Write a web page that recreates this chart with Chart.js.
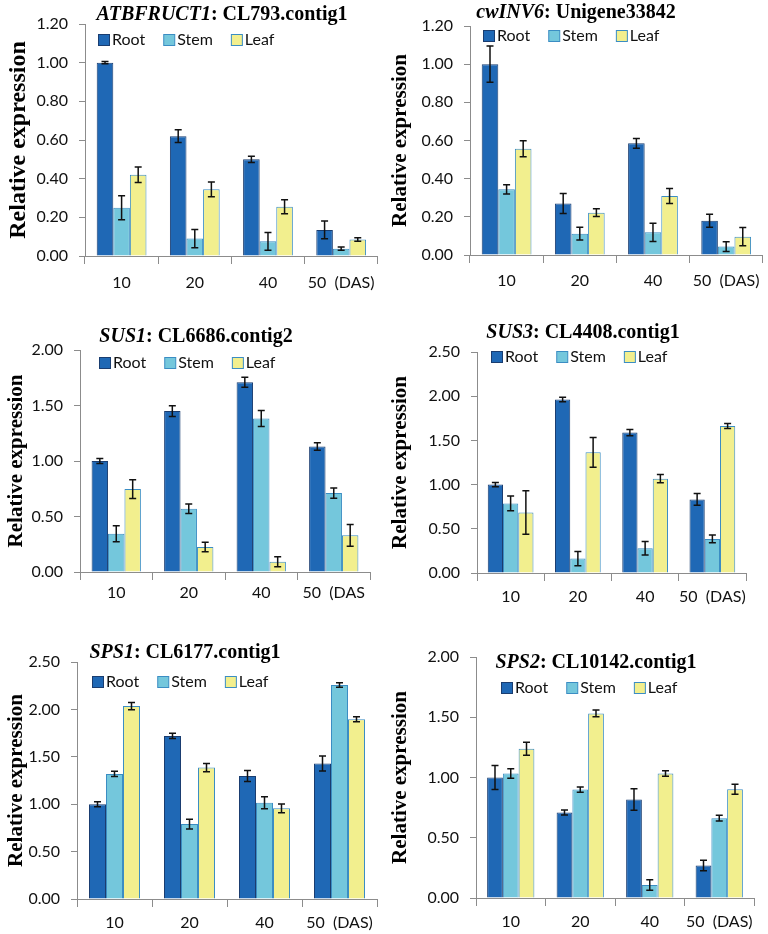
<!DOCTYPE html>
<html>
<head>
<meta charset="utf-8">
<script src="https://cdn.jsdelivr.net/npm/chart.js@4.4.1/dist/chart.umd.min.js"></script>
<style>
  body { margin: 0; background: #fff; }
  #page { position: relative; width: 768px; height: 934px; overflow: hidden; }
  canvas { position: absolute; }
</style>
</head>
<body>
<div id="page">
  <canvas id="c1" width="384" height="300" style="left:0;top:0"></canvas>
  <canvas id="c2" width="384" height="300" style="left:384px;top:0"></canvas>
  <canvas id="c3" width="384" height="310" style="left:0;top:300px"></canvas>
  <canvas id="c4" width="384" height="310" style="left:384px;top:300px"></canvas>
  <canvas id="c5" width="384" height="324" style="left:0;top:610px"></canvas>
  <canvas id="c6" width="384" height="324" style="left:384px;top:610px"></canvas>
</div>
<script>
// categories
const days = ['10', '20', '40', '50  (DAS)'];
const daysSus1 = ['10', '20', '40', '50  (DAS'];
const tissues = ['Root', 'Stem', 'Leaf'];

// ATBFRUCT1
const atbRoot = [1.00, 0.62, 0.50, 0.135];
const atbRootErr = [0.006, 0.033, 0.016, 0.046];
const atbStem = [0.25, 0.09, 0.076, 0.038];
const atbStemErr = [0.062, 0.047, 0.046, 0.008];
const atbLeaf = [0.42, 0.345, 0.255, 0.085];
const atbLeafErr = [0.04, 0.038, 0.036, 0.009];

// cwINV6
const cwRoot = [1.00, 0.27, 0.585, 0.18];
const cwRootErr = [0.095, 0.052, 0.026, 0.034];
const cwStem = [0.344, 0.112, 0.119, 0.044];
const cwStemErr = [0.024, 0.033, 0.048, 0.026];
const cwLeaf = [0.557, 0.222, 0.309, 0.096];
const cwLeafErr = [0.042, 0.02, 0.039, 0.048];

// SUS1
const sus1Root = [1.00, 1.45, 1.71, 1.13];
const sus1RootErr = [0.022, 0.048, 0.045, 0.034];
const sus1Stem = [0.345, 0.57, 1.382, 0.711];
const sus1StemErr = [0.072, 0.043, 0.072, 0.046];
const sus1Leaf = [0.747, 0.225, 0.093, 0.33];
const sus1LeafErr = [0.084, 0.042, 0.045, 0.097];

// SUS3
const sus3Root = [1.00, 1.963, 1.588, 0.832];
const sus3RootErr = [0.023, 0.026, 0.036, 0.066];
const sus3Stem = [0.787, 0.163, 0.28, 0.386];
const sus3StemErr = [0.083, 0.081, 0.076, 0.045];
const sus3Leaf = [0.685, 1.365, 1.067, 1.664];
const sus3LeafErr = [0.246, 0.168, 0.047, 0.028];

// SPS1
const sps1Root = [1.00, 1.72, 1.297, 1.43];
const sps1RootErr = [0.026, 0.028, 0.058, 0.079];
const sps1Stem = [1.319, 0.79, 1.016, 2.257];
const sps1StemErr = [0.028, 0.051, 0.063, 0.023];
const sps1Leaf = [2.035, 1.386, 0.956, 1.897];
const sps1LeafErr = [0.039, 0.044, 0.046, 0.026];

// SPS2
const sps2Root = [1.00, 0.709, 0.817, 0.27];
const sps2RootErr = [0.1, 0.021, 0.089, 0.043];
const sps2Stem = [1.033, 0.90, 0.108, 0.662];
const sps2StemErr = [0.039, 0.022, 0.044, 0.024];
const sps2Leaf = [1.238, 1.532, 1.033, 0.903];
const sps2LeafErr = [0.054, 0.028, 0.022, 0.042];

const fills = ['#1f68b5', '#74c7dc', '#f2ef8e'];
const borders = ['#1a3d70', '#3b8dc3', '#3b8dc3'];
const axisGray = '#8c8c8c';
const sans = 'Lato, "Noto Sans", sans-serif';
const serif = '"Liberation Serif", "DejaVu Serif", serif';

const panels = [
  { id: 'c1', gene: 'ATBFRUCT1', contig: 'CL793.contig1', labels: days, max: 1.2, step: 0.2,
    values: [atbRoot, atbStem, atbLeaf], errors: [atbRootErr, atbStemErr, atbLeafErr] },
  { id: 'c2', gene: 'cwINV6', contig: 'Unigene33842', labels: days, max: 1.2, step: 0.2,
    values: [cwRoot, cwStem, cwLeaf], errors: [cwRootErr, cwStemErr, cwLeafErr] },
  { id: 'c3', gene: 'SUS1', contig: 'CL6686.contig2', labels: daysSus1, max: 2.0, step: 0.5,
    values: [sus1Root, sus1Stem, sus1Leaf], errors: [sus1RootErr, sus1StemErr, sus1LeafErr] },
  { id: 'c4', gene: 'SUS3', contig: 'CL4408.contig1', labels: days, max: 2.5, step: 0.5,
    values: [sus3Root, sus3Stem, sus3Leaf], errors: [sus3RootErr, sus3StemErr, sus3LeafErr] },
  { id: 'c5', gene: 'SPS1', contig: 'CL6177.contig1', labels: days, max: 2.5, step: 0.5,
    values: [sps1Root, sps1Stem, sps1Leaf], errors: [sps1RootErr, sps1StemErr, sps1LeafErr] },
  { id: 'c6', gene: 'SPS2', contig: 'CL10142.contig1', labels: days, max: 2.0, step: 0.5,
    values: [sps2Root, sps2Stem, sps2Leaf], errors: [sps2RootErr, sps2StemErr, sps2LeafErr] }
];

// plot frame of each panel (canvas-local px): chart area, title centre, legend start
const frames = [
  { l: 85, r: 380, t: 24, b: 256, lab: 9, ytitle: 24, title: [222, 15], legend: [98, 40] },
  { l: 86, r: 380, t: 26, b: 255, lab: 8, ytitle: 21, title: [192, 13], legend: [99, 36] },
  { l: 80, r: 370, t: 50, b: 272, lab: 3, ytitle: 21, title: [196, 37], legend: [99, 63] },
  { l: 93, r: 362, t: 52, b: 273, lab: 6, ytitle: 21, title: [199, 33], legend: [107, 57] },
  { l: 77, r: 377, t: 52, b: 289, lab: 6, ytitle: 21, title: [185, 43], legend: [92, 72] },
  { l: 92, r: 370, t: 47, b: 288, lab: 6, ytitle: 21, title: [212, 53], legend: [117, 78] }
];

// error bars, read from dataset.errors and placed through the y scale
const errorBars = {
  id: 'errorBars',
  afterDatasetsDraw(chart) {
    const ctx = chart.ctx;
    const y = chart.scales.y;
    ctx.save();
    ctx.strokeStyle = '#111';
    ctx.lineWidth = 1.5;
    chart.data.datasets.forEach((ds, i) => {
      const meta = chart.getDatasetMeta(i);
      meta.data.forEach((bar, j) => {
        const v = ds.data[j], e = ds.errors[j];
        const top = y.getPixelForValue(v + e);
        const bot = y.getPixelForValue(v - e);
        const cap = 3.5;
        ctx.beginPath();
        ctx.moveTo(bar.x, top); ctx.lineTo(bar.x, bot);
        ctx.moveTo(bar.x - cap, top); ctx.lineTo(bar.x + cap, top);
        ctx.moveTo(bar.x - cap, bot); ctx.lineTo(bar.x + cap, bot);
        ctx.stroke();
      });
    });
    ctx.restore();
  }
};

// title with italic gene name + legend drawn inside the plot
const headings = {
  id: 'headings',
  afterDraw(chart, args, opts) {
    const ctx = chart.ctx;
    ctx.save();
    ctx.textBaseline = 'middle';
    ctx.fillStyle = '#000';
    const italic = 'italic bold 20px ' + serif;
    const upright = 'bold 20px ' + serif;
    ctx.font = italic;
    const w1 = ctx.measureText(opts.gene).width;
    ctx.font = upright;
    const rest = ': ' + opts.contig;
    const w2 = ctx.measureText(rest).width;
    let x = opts.title[0] - (w1 + w2) / 2;
    ctx.font = italic;
    ctx.fillText(opts.gene, x, opts.title[1]);
    ctx.font = upright;
    ctx.fillText(rest, x + w1, opts.title[1]);

    ctx.font = '16px ' + sans;
    let lx = opts.legend[0];
    const ly = opts.legend[1];
    chart.data.datasets.forEach((ds) => {
      ctx.fillStyle = ds.backgroundColor;
      ctx.fillRect(lx + 0.5, ly - 6 + 0.5, 11, 11);
      ctx.strokeStyle = ds.borderColor;
      ctx.lineWidth = 1;
      ctx.strokeRect(lx + 0.5, ly - 6 + 0.5, 11, 11);
      ctx.fillStyle = '#111';
      ctx.fillText(ds.label, lx + 14, ly);
      lx += 14 + ctx.measureText(ds.label).width + 18;
    });
    ctx.restore();
  }
};

panels.forEach((p, k) => {
  const f = frames[k];
  const canvas = document.getElementById(p.id);
  const H = canvas.height, W = canvas.width;
  const xAxisH = 40;
  new Chart(canvas, {
    type: 'bar',
    data: {
      labels: p.labels,
      datasets: tissues.map((t, i) => ({
        label: t,
        data: p.values[i],
        errors: p.errors[i],
        backgroundColor: fills[i],
        borderColor: borders[i],
        borderWidth: 1,
        borderSkipped: 'bottom',
        barPercentage: 1.0,
        categoryPercentage: 0.68
      }))
    },
    options: {
      responsive: false,
      animation: false,
      layout: { padding: { left: 0, top: f.t, right: W - f.r, bottom: H - f.b - xAxisH } },
      plugins: {
        legend: { display: false },
        title: { display: false },
        tooltip: { enabled: false },
        headings: { gene: p.gene, contig: p.contig, title: f.title, legend: f.legend }
      },
      scales: {
        x: {
          afterFit: (axis) => { axis.height = xAxisH; },
          grid: { display: true, drawOnChartArea: false, tickLength: 8, color: axisGray, offset: true },
          border: { color: axisGray, width: 1 },
          ticks: { color: '#111', font: { family: sans, size: 16 }, padding: f.lab, maxRotation: 0, autoSkip: false }
        },
        y: {
          min: 0,
          max: p.max,
          afterFit: (axis) => { axis.width = f.l; },
          grid: { display: true, drawOnChartArea: false, tickLength: 6, color: axisGray },
          border: { color: axisGray, width: 1 },
          ticks: {
            stepSize: p.step,
            color: '#111',
            padding: 11,
            font: { family: sans, size: 16 },
            callback: (v) => Number(v).toFixed(2)
          },
          title: {
            display: true,
            text: 'Relative expression',
            color: '#000',
            padding: { top: 4, bottom: 0 },
            font: { family: serif, size: f.ytitle, weight: 'bold' }
          }
        }
      }
    },
    plugins: [errorBars, headings]
  });
});
</script>
</body>
</html>
